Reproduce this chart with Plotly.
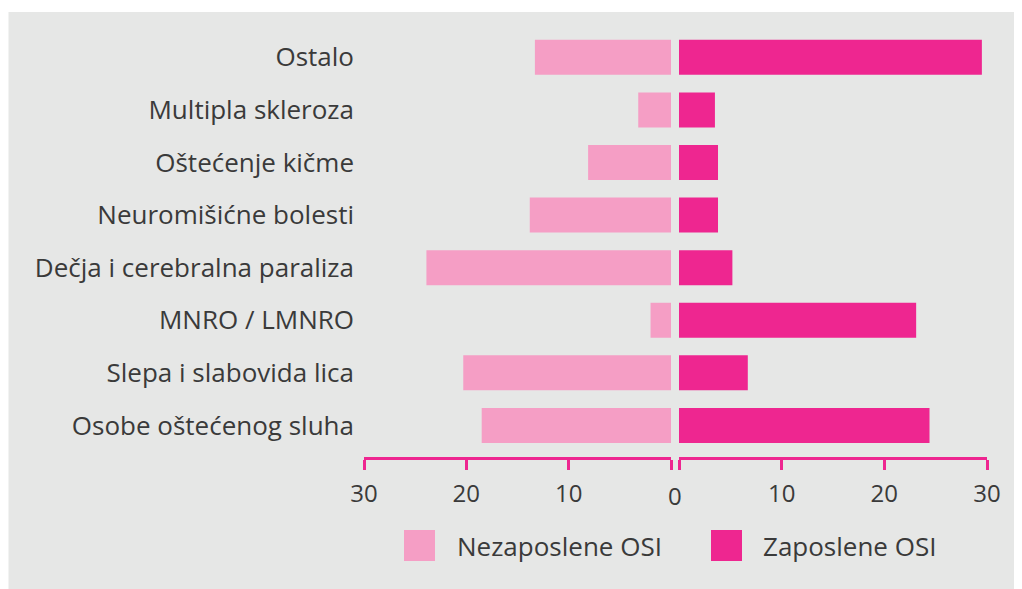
import plotly.graph_objects as go

categories = ["Osobe oštećenog sluha", "Slepa i slabovida lica", "MNRO / LMNRO",
              "Dečja i cerebralna paraliza", "Neuromišićne bolesti", "Oštećenje kičme",
              "Multipla skleroza", "Ostalo"]
nezaposlene = [18.5, 20.3, 2.0, 23.9, 13.8, 8.1, 3.2, 13.3]
zaposlene = [24.4, 6.7, 23.1, 5.2, 3.8, 3.8, 3.5, 29.5]
series_names = ["Nezaposlene OSI", "Zaposlene OSI"]
tick_vals = [0, 10, 20, 30]

LIGHT = "#f59ec5"
HOT = "#ee2690"
BG = "#e6e7e6"
TXT = "#3a3a3a"
FONT = "Open Sans"

OFF = 8  # page body margin
PAGE_W, PAGE_H = 1022, 589
W, H = PAGE_W - OFF, PAGE_H - OFF
# plot area in page pixels
L, R, T, B = 364, 987, 31, 457
pw, ph = R - L, B - T

def px(x):
    return (x - L) / pw

def py(y):
    return (B - y) / ph

fig = go.Figure()
fig.add_trace(go.Bar(y=categories, x=nezaposlene, orientation="h", marker_color=LIGHT,
                     marker_line_width=0, name=series_names[0], xaxis="x", yaxis="y",
                     showlegend=False))
fig.add_trace(go.Bar(y=categories, x=zaposlene, orientation="h", marker_color=HOT,
                     marker_line_width=0, name=series_names[1], xaxis="x2", yaxis="y",
                     showlegend=False))

tick_text = [("" if v == 0 else str(v)) for v in tick_vals]
axis_common = dict(
    tickvals=tick_vals, ticktext=tick_text,
    showline=True, linecolor=HOT, linewidth=2.5,
    ticks="outside", tickcolor=HOT, tickwidth=2.5, ticklen=10,
    showgrid=False, zeroline=False, fixedrange=True,
    tickfont=dict(family=FONT, size=24, color=TXT),
    ticklabelstandoff=3, automargin=False, anchor="y",
)

shapes = [
    dict(type="rect", xref="paper", yref="paper", layer="below",
         x0=px(8.5), x1=px(PAGE_W + 5), y0=py(PAGE_H + 5), y1=py(12),
         fillcolor=BG, line_width=0),
]
annotations = [
    # shared zero label between the two axes
    dict(xref="x2", yref="paper", x=tick_vals[0], y=py(495), xshift=-4,
         xanchor="center", yanchor="middle", showarrow=False, text=str(tick_vals[0]),
         font=dict(family=FONT, size=24, color=TXT)),
]
legend_items = [(404, 435, 455, LIGHT, series_names[0]), (711, 742, 761, HOT, series_names[1])]
for x0, x1, tx, col, name in legend_items:
    shapes.append(dict(type="rect", xref="paper", yref="paper",
                       x0=px(x0), x1=px(x1), y0=py(561), y1=py(530),
                       fillcolor=col, line_width=0))
    annotations.append(dict(xref="paper", yref="paper", x=px(tx), y=py(546),
                            xanchor="left", yanchor="middle", showarrow=False,
                            text=name, font=dict(family=FONT, size=26, color=TXT)))

fig.update_layout(
    width=W, height=H,
    margin=dict(l=L - OFF, r=W - (R - OFF), t=T - OFF, b=H - (B - OFF), pad=0),
    paper_bgcolor="white", plot_bgcolor="rgba(0,0,0,0)",
    barmode="overlay", bargap=0.335,
    font=dict(family=FONT, color=TXT),
    xaxis=dict(domain=[0, px(671)], range=[30, 0], **axis_common),
    xaxis2=dict(domain=[px(679), 1], range=[0, 30], **axis_common),
    yaxis=dict(range=[-0.6, 7.5], showline=False, showgrid=False, zeroline=False,
               ticks="", ticklabelstandoff=9, automargin=False, fixedrange=True,
               tickfont=dict(family=FONT, size=26, color=TXT), anchor="x"),
    shapes=shapes, annotations=annotations, showlegend=False,
)

fig.write_html("out.html")
